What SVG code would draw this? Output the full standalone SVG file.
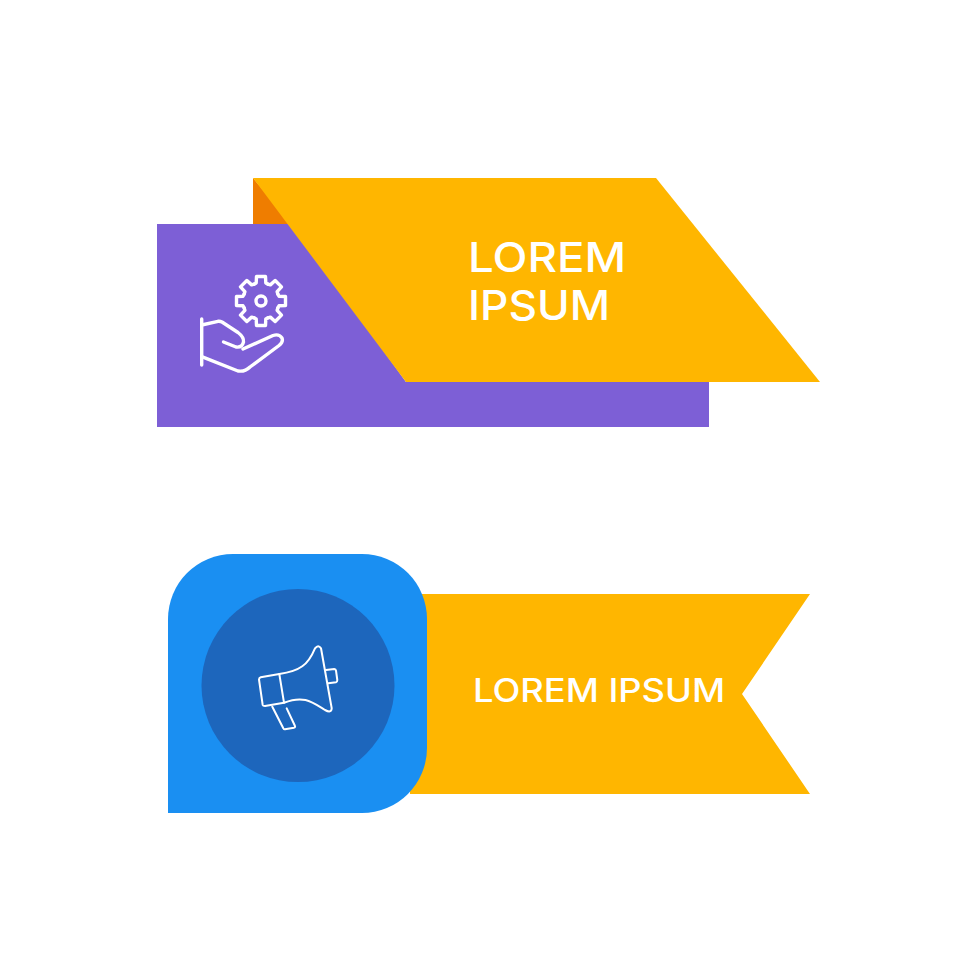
<svg xmlns="http://www.w3.org/2000/svg" width="980" height="980" viewBox="0 0 980 980">
<style>
.y{fill:#FFB600}
.t{fill:#fff;font-family:Inter,"Open Sans","Liberation Sans",sans-serif;font-weight:500}
.i{fill:none;stroke:#fff;stroke-linecap:round;stroke-linejoin:round}
</style>
<defs><path id="tooth" d="M-7-16.800L-4.800-18L-4.500-24.500H4.500L4.800-18L7-16.800"/></defs>
<rect width="980" height="980" fill="#fff"/>
<g id="banner-top">
<polygon points="253,178 253,224 292,224" fill="#EF7D00"/>
<polygon points="157,224 292,224 406,382 709,382 709,427 157,427" fill="#7D5FD6"/>
<polygon class="y" points="253,178 656,178 820,382 406,382"/>
<text class="t" x="468" y="272" font-size="41" textLength="158" lengthAdjust="spacingAndGlyphs">LOREM</text>
<text class="t" x="468" y="320" font-size="41" textLength="142" lengthAdjust="spacingAndGlyphs">IPSUM</text>
<g class="i" stroke-width="3.400" id="icon-hand-gear">
<g transform="translate(261 301)">
<use href="#tooth"/><use href="#tooth" transform="rotate(45)"/><use href="#tooth" transform="rotate(90)"/><use href="#tooth" transform="rotate(135)"/><use href="#tooth" transform="rotate(180)"/><use href="#tooth" transform="rotate(225)"/><use href="#tooth" transform="rotate(270)"/><use href="#tooth" transform="rotate(315)"/>
<circle r="5"/>
</g>
<path d="M201.700 319V365"/>
<path d="M201.700 325L218 321.300Q220 321 222 322L238 332.500Q244 337 243.500 342Q242 348 236 347L223.500 342"/>
<path d="M243 349L273 335.500Q279 333.500 282 338Q283.500 342 279 345.500L250 367Q245 372 238 371L201.700 356.700"/>
</g>
</g>
<g id="banner-bottom">
<polygon class="y" points="410,594 810,594 742,694 810,794 410,794"/>
<path d="M233 554H362A65 65 0 0 1 427 619V748A65 65 0 0 1 362 813H168V619A65 65 0 0 1 233 554Z" fill="#1A8FF2"/>
<circle cx="298" cy="685.500" r="96.500" fill="#1D66BC"/>
<text class="t" x="473" y="702" font-size="32" textLength="252" lengthAdjust="spacingAndGlyphs">LOREM IPSUM</text>
<g class="i" stroke-width="2" id="icon-megaphone">
<path d="M259 679.500Q259 677.800 260.700 677.300L279.300 674C300 671 308 665 315 648.300Q318.300 644 321 648.300L331.700 708.300Q331.500 713.500 325 710C312 702 304 695 284 702.700L265 706Q263 706 262.700 705Z"/>
<path d="M279.300 674L284 702.700"/>
<path d="M326 670L334.300 669Q335.800 669 336 670.700L337.300 680Q337.300 682 336 682.300L328.300 683.300"/>
<path d="M272.300 706.700L283.300 728.300Q284 729.500 285 729.300L294 727.700Q295.500 727 295 726L286.700 708.300"/>
</g>
</g>
</svg>
